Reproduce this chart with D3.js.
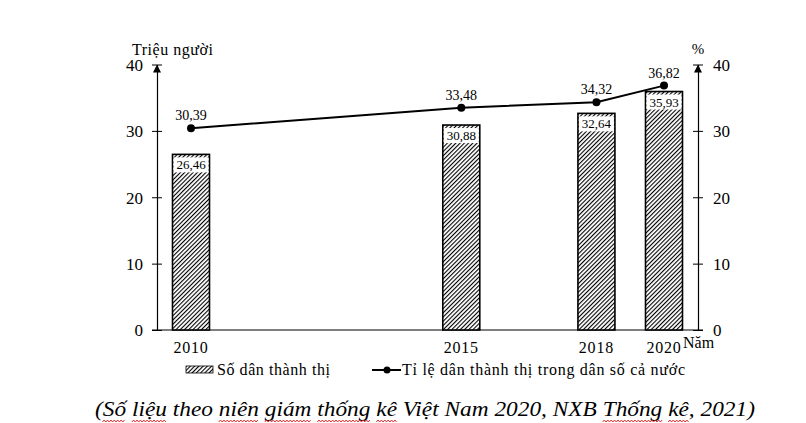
<!DOCTYPE html>
<html>
<head>
<meta charset="utf-8">
<script src="https://cdn.jsdelivr.net/npm/d3@7"></script>
<style>
  body { margin: 0; background: #fff; }
  svg { display: block; }
  text { font-family: "Liberation Serif", "Times New Roman", serif; fill: #000; }
</style>
</head>
<body>
<div id="chart"></div>
<script>
// data
var years = [2010, 2015, 2018, 2020];
var urbanPop = [26.46, 30.88, 32.64, 35.93];   // triệu người
var urbanRate = [30.39, 33.48, 34.32, 36.82];  // %
var yTicks = [0, 10, 20, 30, 40];

var width = 806, height = 423;
var serif = '"Liberation Serif", "Times New Roman", serif';

var svg = d3.select('#chart').append('svg')
  .attr('width', width)
  .attr('height', height);

// hatch pattern for the bars
var defs = svg.append('defs');
var pat = defs.append('pattern')
  .attr('id', 'hatch')
  .attr('patternUnits', 'userSpaceOnUse')
  .attr('width', 3).attr('height', 3)
  .attr('patternTransform', 'rotate(45)');
pat.append('rect').attr('width', 3).attr('height', 3).attr('fill', '#fff');
pat.append('line')
  .attr('x1', 0).attr('y1', 0).attr('x2', 0).attr('y2', 3)
  .attr('stroke', '#000').attr('stroke-width', 2.2);

// years are not evenly spaced in the original: slot positions
var slotOf = {2010: 0, 2015: 4, 2018: 6, 2020: 7};
var x = d3.scaleLinear().domain([0, 7]).range([191, 664]);
var y = d3.scaleLinear().domain([0, 40]).range([330, 64.5]);

var leftX = 157, rightX = 698;
var barW = 37;

// baseline
svg.append('line')
  .attr('x1', 152).attr('x2', 703)
  .attr('y1', y(0)).attr('y2', y(0))
  .attr('stroke', '#000').attr('stroke-width', 1.2);

function styleAxis(g) {
  g.attr('font-family', serif);
  g.select('.domain').attr('stroke', '#000').attr('stroke-width', 1.2);
  g.selectAll('.tick text').attr('font-size', 17).attr('dy', '0.34em');
  g.selectAll('.tick').append('line')
    .attr('x1', -5).attr('x2', 5).attr('stroke', '#000').attr('stroke-width', 1);
}

// left axis
svg.append('g')
  .attr('transform', 'translate(' + leftX + ',0)')
  .call(d3.axisLeft(y).tickValues(yTicks).tickSize(0).tickPadding(14))
  .call(styleAxis);

// right axis
svg.append('g')
  .attr('transform', 'translate(' + rightX + ',0)')
  .call(d3.axisRight(y).tickValues(yTicks).tickSize(0).tickPadding(15))
  .call(styleAxis);

// arrows on top of both axes
[leftX, rightX].forEach(function(ax) {
  svg.append('path')
    .attr('d', 'M' + ax + ',' + y(40) + 'l-4,8l8,0z')
    .attr('fill', '#000');
});

// axis titles
svg.append('text').attr('x', 132).attr('y', 55)
  .style('font-size', '16px').attr('textLength', 81).text('Triệu người');
svg.append('text').attr('x', 698).attr('y', 54).attr('text-anchor', 'middle')
  .style('font-size', '15px').text('%');
svg.append('text').attr('x', 683).attr('y', 348)
  .style('font-size', '16px').text('Năm');

// bars
var bars = svg.selectAll('.bar')
  .data(years).enter()
  .append('g').attr('class', 'bar');

bars.append('rect')
  .attr('x', function(d) { return x(slotOf[d]) - barW / 2; })
  .attr('y', function(d, i) { return y(urbanPop[i]); })
  .attr('width', barW)
  .attr('height', function(d, i) { return y(0) - y(urbanPop[i]); })
  .attr('fill', 'url(#hatch)')
  .attr('stroke', '#000').attr('stroke-width', 1.6);

// white label box near top of each bar
bars.append('rect')
  .attr('x', function(d) { return x(slotOf[d]) - barW / 2 + 1; })
  .attr('y', function(d, i) { return y(urbanPop[i]) + 3; })
  .attr('width', barW - 2)
  .attr('height', 15)
  .attr('fill', '#fff');

bars.append('text')
  .attr('x', function(d) { return x(slotOf[d]); })
  .attr('y', function(d, i) { return y(urbanPop[i]) + 15; })
  .attr('text-anchor', 'middle')
  .style('font-size', '13px')
  .text(function(d, i) { return urbanPop[i].toFixed(2).replace('.', ','); });

// year labels
svg.selectAll('.year')
  .data(years).enter()
  .append('text').attr('class', 'year')
  .attr('x', function(d) { return x(slotOf[d]); })
  .attr('y', 353)
  .attr('text-anchor', 'middle')
  .style('font-size', '16px')
  .style('letter-spacing', '0.8px')
  .text(function(d) { return d; });

// rate line
var line = d3.line()
  .x(function(d, i) { return x(slotOf[years[i]]); })
  .y(function(d) { return y(d); });

svg.append('path')
  .datum(urbanRate)
  .attr('d', line)
  .attr('fill', 'none')
  .attr('stroke', '#000')
  .attr('stroke-width', 2);

svg.selectAll('.dot')
  .data(urbanRate).enter()
  .append('circle').attr('class', 'dot')
  .attr('cx', function(d, i) { return x(slotOf[years[i]]); })
  .attr('cy', function(d) { return y(d); })
  .attr('r', 4)
  .attr('fill', '#000');

svg.selectAll('.rate-label')
  .data(urbanRate).enter()
  .append('text').attr('class', 'rate-label')
  .attr('x', function(d, i) { return x(slotOf[years[i]]); })
  .attr('y', function(d) { return y(d) - 8; })
  .attr('text-anchor', 'middle')
  .style('font-size', '14px')
  .text(function(d) { return d.toFixed(2).replace('.', ','); });

// legend
var legend = svg.append('g');
legend.append('rect')
  .attr('x', 186).attr('y', 366).attr('width', 27).attr('height', 7)
  .attr('fill', 'url(#hatch)').attr('stroke', '#000').attr('stroke-width', 0.8);
legend.append('text').attr('x', 217).attr('y', 375)
  .style('font-size', '16px').attr('textLength', 113).text('Số dân thành thị');
legend.append('line')
  .attr('x1', 372).attr('x2', 401).attr('y1', 370).attr('y2', 370)
  .attr('stroke', '#000').attr('stroke-width', 2);
legend.append('circle').attr('cx', 387).attr('cy', 370).attr('r', 3.5).attr('fill', '#000');
legend.append('text').attr('x', 402).attr('y', 375)
  .style('font-size', '16px').attr('textLength', 283).text('Tỉ lệ dân thành thị trong dân số cả nước');

// source caption, with the red wavy spell-check marks of the original
var words = ['(Số', 'liệu', 'theo', 'niên', 'giám', 'thống', 'kê', 'Việt', 'Nam', '2020,', 'NXB', 'Thống', 'kê,', '2021)'];
var flagged = [true, true, false, true, true, true, true, false, false, false, false, true, true, false];
var capFont = 22, capWidth = 660;
var cap = svg.append('g');
var cx = 0;
var spaceW = (function() {
  var t = cap.append('text').style('font-size', capFont + 'px').style('font-style', 'italic').text('a a');
  var t2 = cap.append('text').style('font-size', capFont + 'px').style('font-style', 'italic').text('aa');
  var w = t.node().getComputedTextLength() - t2.node().getComputedTextLength();
  t.remove(); t2.remove();
  return w;
})();
words.forEach(function(w, i) {
  var t = cap.append('text')
    .attr('x', cx).attr('y', 0)
    .style('font-size', capFont + 'px')
    .style('font-style', 'italic')
    .text(w);
  var len = t.node().getComputedTextLength();
  if (flagged[i]) {
    var x0 = cx + (i === 0 ? 7 : 0), x1 = cx + len - (w.slice(-1) === ',' ? 5 : 0);
    var pts = [];
    for (var k = 0, px = x0; px <= x1; k++, px += 1.6) pts.push([px, 5 + (k % 2 ? -1 : 1)]);
    cap.append('path')
      .attr('d', d3.line()(pts))
      .attr('fill', 'none')
      .attr('stroke', '#e02020')
      .attr('stroke-width', 0.9);
  }
  cx += len + spaceW;
});
var natural = cx - spaceW;
cap.attr('transform', 'translate(95,416) scale(' + (capWidth / natural) + ',1)');
</script>
</body>
</html>
